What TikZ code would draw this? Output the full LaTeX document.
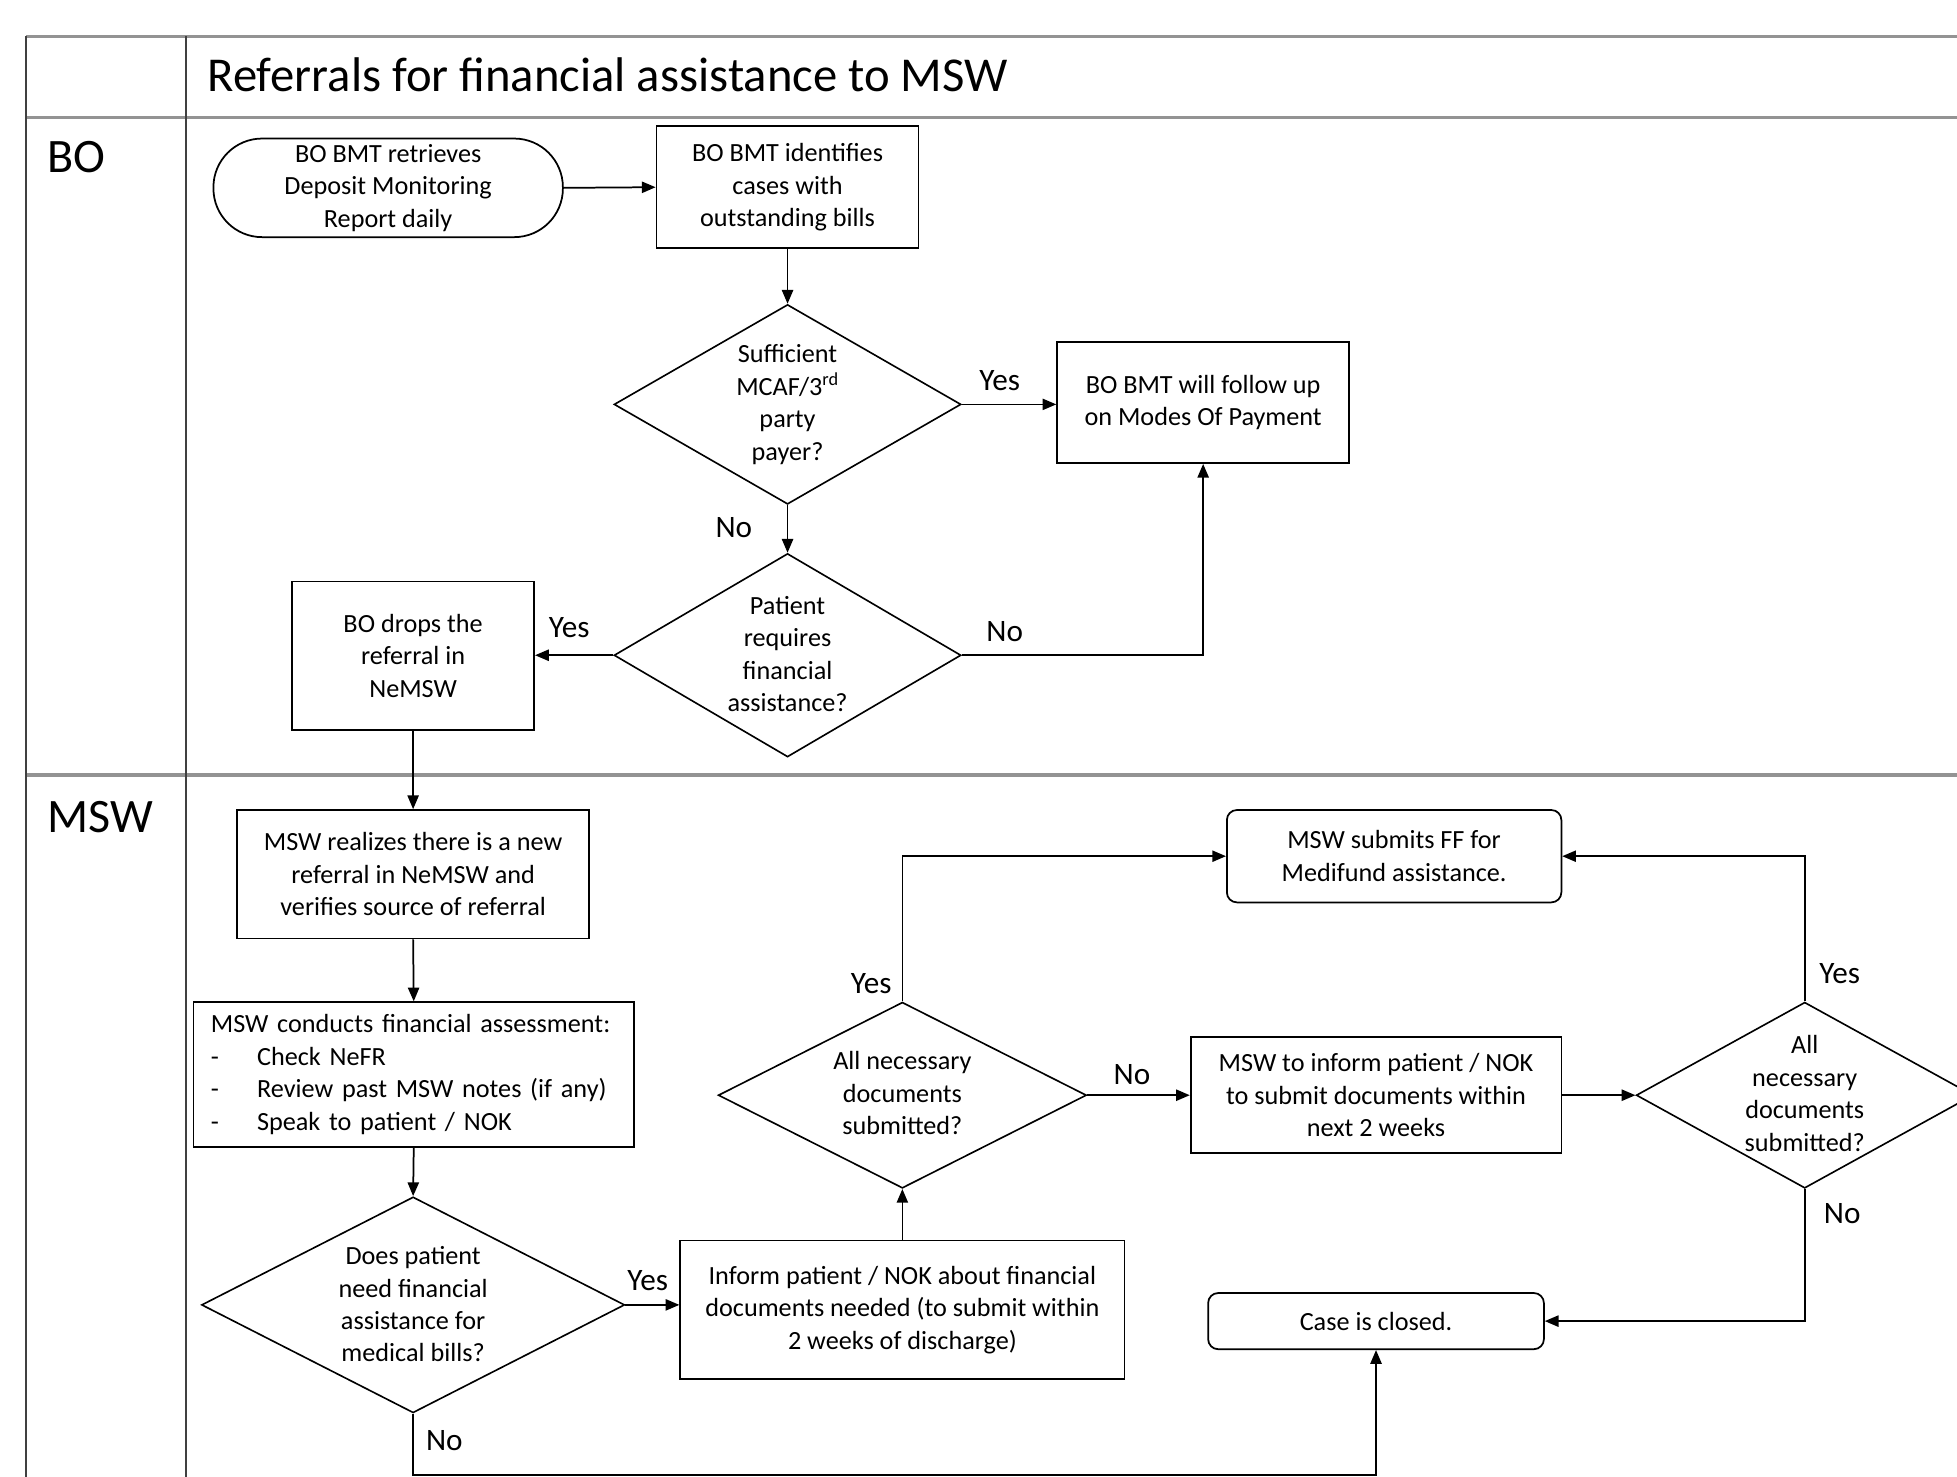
\documentclass[tikz,border=0pt]{standalone}
\usepackage{fontspec}
\setmainfont{Carlito}
\usetikzlibrary{arrows.meta,shapes.geometric}
\begin{document}
\begin{tikzpicture}[x=1pt,y=-1pt,
  every node/.style={font=\fontsize{21}{26}\selectfont},
  proc/.style={draw, line width=1.4pt, rectangle, align=center, inner sep=0pt},
  dia/.style={draw, line width=1.3pt, diamond, inner sep=0pt},
  dtext/.style={align=center, inner sep=0pt},
  lbl/.style={font=\fontsize{25}{30}\selectfont, inner sep=0pt},
  arr/.style={line width=1.4pt, -{Triangle[length=11pt,width=9pt]}},
  lane/.style={font=\fontsize{38.5}{44}\selectfont, anchor=base west, inner sep=0pt},
  ttl/.style={font=\fontsize{39}{46}\selectfont, anchor=base west, inner sep=0pt},
  frameh/.style={draw=gray!85, line width=2.6pt},
  framev/.style={draw=black!75, line width=1.6pt}]
\useasboundingbox (0,0) rectangle (1568,1183);
\clip (0,0) rectangle (1568,1183);
\fill[white] (0,0) rectangle (1568,1183);

% frame
\draw[frameh] (21,29) -- (1575,29);
\draw[frameh] (21,94) -- (1575,94);
\draw[frameh] (21,621) -- (1575,621);
\draw[framev] (21,29) -- (21,1190);
\draw[framev] (149,29) -- (149,1190);

\node[ttl] (title) at (166,73) {Referrals for financial assistance to MSW};
\node[lane] (laneBO) at (38,138) {BO};
\node[lane] (laneMSW) at (38,667) {MSW};

% BO lane
\node[proc, rounded corners=39pt, minimum width=280pt, minimum height=79pt] (n1) at (311,150.5) {BO BMT retrieves\\Deposit Monitoring\\Report daily};
\node[proc, minimum width=210pt, minimum height=98pt] (n2) at (631,150) {BO BMT identifies\\cases with\\outstanding bills};
\node[dia, minimum width=278pt, minimum height=160pt] (d1) at (631,324) {};
\node[dtext] (d1t) at (631,324) {Sufficient\\MCAF/3\textsuperscript{rd}\\party\\payer?};
\node[proc, minimum width=234pt, minimum height=97pt] (n4) at (964,322.5) {BO BMT will follow up\\on Modes Of Payment};
\node[dia, minimum width=278pt, minimum height=163pt] (d2) at (631,525) {};
\node[dtext] (d2t) at (631,524) {Patient\\requires\\financial\\assistance?};
\node[proc, minimum width=194pt, minimum height=119pt] (n6) at (331,525.5) {BO drops the\\referral in\\NeMSW};

% MSW lane
\node[proc, minimum width=282pt, minimum height=103pt] (n7) at (331,700.5) {MSW realizes there is a new\\referral in NeMSW and\\verifies source of referral};
\node[proc, minimum width=353pt, minimum height=116pt, text width=325pt, align=left] (n8) at (331.5,861) {MSW conducts financial assessment:\\\makebox[37pt][l]{-}Check NeFR\\\makebox[37pt][l]{-}Review past MSW notes (if any)\\\makebox[37pt][l]{-}Speak to patient / NOK};
\node[dia, minimum width=339pt, minimum height=173pt] (d3) at (331,1045.5) {};
\node[dtext] (d3t) at (331,1045) {Does patient\\need financial\\assistance for\\medical bills?};
\node[proc, minimum width=356pt, minimum height=111pt] (n10) at (723,1049.5) {Inform patient / NOK about financial\\documents needed (to submit within\\2 weeks of discharge)};
\node[dia, minimum width=295pt, minimum height=149pt] (d4) at (723,877.5) {};
\node[dtext] (d4t) at (723,876) {All necessary\\documents\\submitted?};
\node[proc, rounded corners=8pt, minimum width=268pt, minimum height=74pt] (n12) at (1117,686) {MSW submits FF for\\Medifund assistance.};
\node[proc, minimum width=297pt, minimum height=93pt] (n13) at (1102.5,877.5) {MSW to inform patient / NOK\\to submit documents within\\next 2 weeks};
\node[dia, minimum width=270pt, minimum height=149pt] (d5) at (1446,877.5) {};
\node[dtext] (d5t) at (1446,876) {All\\necessary\\documents\\submitted?};
\node[proc, rounded corners=8pt, minimum width=269pt, minimum height=45pt] (n15) at (1102.5,1058.5) {Case is closed.};

% connectors
\draw[arr] (n1.east) -- (n2.west);
\draw[arr] (n2.south) -- (d1.north);
\draw[arr] (d1.east) -- (d1.east -| n4.west);
\draw[arr] (d1.south) -- (d2.north);
\draw[arr] (d2.east) -| (n4.south);
\draw[arr] (d2.west) -- (d2.west -| n6.east);
\draw[arr] (n6.south) -- (n7.north);
\draw[arr] (n7.south) -- (n8.north);
\draw[arr] (n8.south) -- (d3.north);
\draw[arr] (d3.east) -- (d3.east -| n10.west);
\draw[arr] (n10.north) -- (d4.south);
\draw[arr] (d4.north) |- (n12.west);
\draw[arr] (d4.east) -- (d4.east -| n13.west);
\draw[arr] (n13.east) -- (n13.east -| d5.west);
\draw[arr] (d5.north) |- (n12.east);
\draw[arr] (d5.south) |- (n15.east);
\draw[arr] (d3.south) -- ++(0,49) -| (n15.south);

% labels
\node[lbl] (l1) at (801,305) {Yes};
\node[lbl] (l2) at (588,423) {No};
\node[lbl] (l3) at (805,506) {No};
\node[lbl] (l4) at (456,503) {Yes};
\node[lbl] (l5) at (519,1026) {Yes};
\node[lbl] (l6) at (698,788) {Yes};
\node[lbl] (l7) at (907,861) {No};
\node[lbl] (l8) at (1474,780) {Yes};
\node[lbl] (l9) at (1476,972) {No};
\node[lbl] (l10) at (356,1154) {No};
\end{tikzpicture}
\end{document}
